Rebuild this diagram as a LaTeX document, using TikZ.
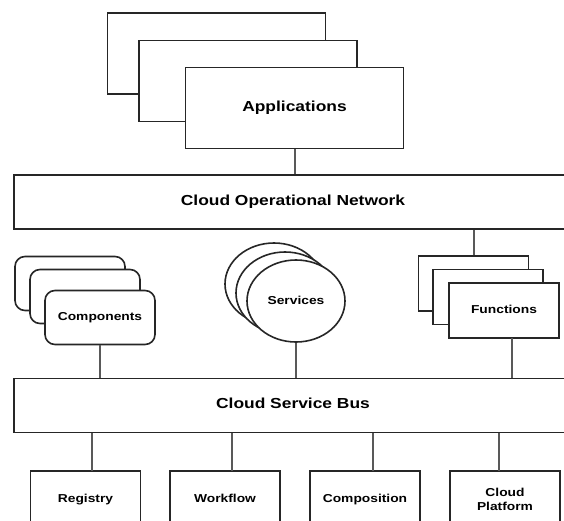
\documentclass[tikz,border=0pt]{standalone}
\usepackage{fontspec}
\newfontfamily\lblfont[FakeStretch=1.2]{Liberation Sans}
\usetikzlibrary{shapes.geometric}
\begin{document}
\begin{tikzpicture}[x=1bp,y=-1bp,
  frame/.style={draw=black!85, line width=1.6bp, fill=white, inner sep=0pt,
    align=center, font=\lblfont\bfseries\fontsize{11.5bp}{14bp}\selectfont},
  oneline/.style={text height=1.42ex, text depth=0ex},
  bar/.style={frame, oneline, minimum width=558bp, minimum height=54bp,
    font=\lblfont\bfseries\fontsize{14.5bp}{17bp}\selectfont},
  appbox/.style={frame, oneline, minimum width=218bp, minimum height=81bp,
    font=\lblfont\bfseries\fontsize{14.5bp}{17bp}\selectfont},
  compbox/.style={frame, oneline, rounded corners=10bp, minimum width=110bp, minimum height=54bp},
  svcbox/.style={frame, oneline, ellipse, minimum width=98bp, minimum height=82bp},
  fnbox/.style={frame, oneline, minimum width=110bp, minimum height=55bp},
  basebox/.style={frame, minimum width=110bp, minimum height=56bp},
  link/.style={draw=black!65, line width=2bp}]
\useasboundingbox (0,0) rectangle (564,521);
\clip (0,0) rectangle (564,521);

% applications stack
\node[appbox] (app1) at (216.5,53.5) {};
\node[appbox] (app2) at (248,81) {};
\node[appbox] (app3) at (294.5,108) {Applications};

% operational network
\node[bar] (con) at (293,202) {Cloud Operational Network};

% components stack
\node[compbox] (comp1) at (70,283.5) {};
\node[compbox] (comp2) at (85,296.5) {};
\node[compbox] (comp3) at (100,317.5) {Components};

% services stack
\node[svcbox] (svc1) at (274,284) {};
\node[svcbox] (svc2) at (285,293) {};
\node[svcbox] (svc3) at (296,301) {Services};

% functions stack
\node[fnbox] (fn1) at (473.5,283.5) {};
\node[fnbox] (fn2) at (488,297) {};
\node[fnbox] (fn3) at (504,310.5) {Functions};

% service bus
\node[bar] (csb) at (293,405.5) {Cloud Service Bus};

% platform services
\node[basebox, oneline] (reg) at (85.5,499) {Registry};
\node[basebox, oneline] (wf) at (225,499) {Workflow};
\node[basebox, oneline] (cmp) at (365,499) {Composition};
\node[basebox] (cp) at (505,499) {Cloud\\Platform};

% attachment points
\coordinate (fnout) at (512,338);
\coordinate (regin) at (92,471);
\coordinate (wfin) at (232,471);
\coordinate (cmpin) at (373,471);
\coordinate (cpin) at (499,471);

% connectors
\draw[link] (app3.south) -- (app3.south |- con.north);
\draw[link] (con.south -| fn1.north) -- (fn1.north);
\draw[link] (comp3.south) -- (comp3.south |- csb.north);
\draw[link] (svc3.south) -- (svc3.south |- csb.north);
\draw[link] (fnout) -- (fnout |- csb.north);
\draw[link] (csb.south -| regin) -- (regin);
\draw[link] (csb.south -| wfin) -- (wfin);
\draw[link] (csb.south -| cmpin) -- (cmpin);
\draw[link] (csb.south -| cpin) -- (cpin);
\end{tikzpicture}
\end{document}
